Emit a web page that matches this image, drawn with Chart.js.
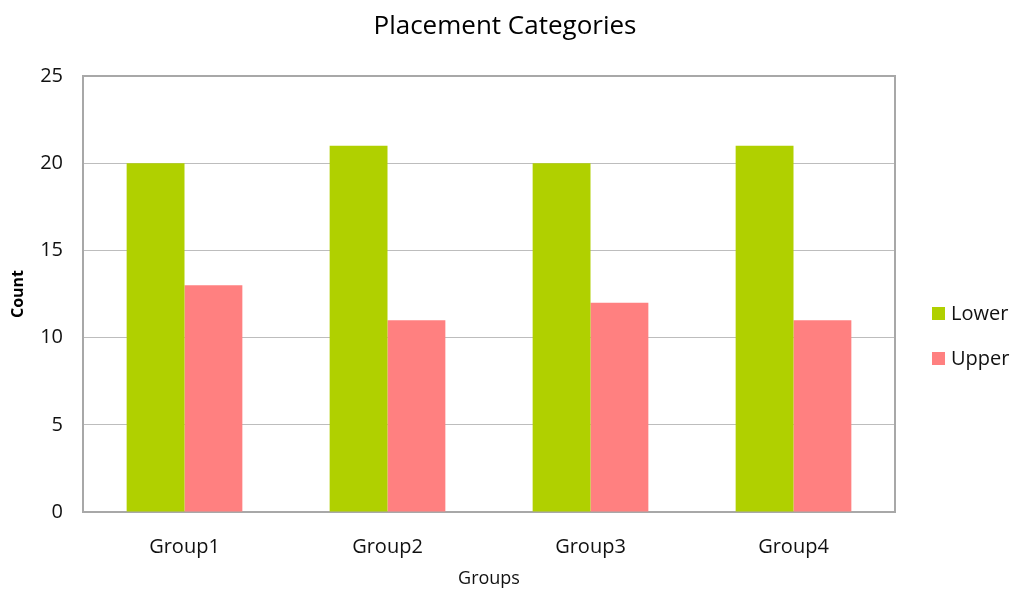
<!DOCTYPE html>
<html>
<head>
<meta charset="utf-8">
<script src="https://cdn.jsdelivr.net/npm/chart.js@4"></script>
<style>
  html, body {margin: 0; padding: 0; background: #fff;}
  #wrap {width: 1013px; height: 590px;}
</style>
</head>
<body>
<div id="wrap"><canvas id="chart" width="1013" height="590"></canvas></div>
<script>
const groups = ['Group1', 'Group2', 'Group3', 'Group4'];
const lowerCounts = [20, 21, 20, 21];
const upperCounts = [13, 11, 12, 11];
const seriesNames = ['Lower', 'Upper'];
const seriesColors = ['#b0d000', '#ff8080'];

const FONT = "'Open Sans', 'Liberation Sans', sans-serif";

// title, plot frame and right-hand legend
const decorations = {
    id: 'decorations',
    beforeDatasetsDraw(chart) {
        const {ctx, chartArea: a} = chart;
        ctx.save();
        ctx.strokeStyle = '#a8a8a8';
        ctx.lineWidth = 2;
        ctx.strokeRect(a.left, a.top, a.right - a.left, a.bottom - a.top);
        ctx.restore();
    },
    afterDraw(chart) {
        const {ctx} = chart;
        ctx.save();
        ctx.fillStyle = '#000';
        ctx.font = `26px ${FONT}`;
        ctx.textAlign = 'center';
        ctx.textBaseline = 'middle';
        ctx.fillText('Placement Categories', 505, 27);

        ctx.font = `20px ${FONT}`;
        ctx.textAlign = 'left';
        chart.data.datasets.forEach((ds, i) => {
            const y = 314 + i * 45;
            ctx.fillStyle = ds.backgroundColor;
            ctx.fillRect(932, y - 7, 13, 13);
            ctx.fillStyle = '#111';
            ctx.fillText(ds.label, 951, y);
        });
        ctx.restore();
    }
};

new Chart(document.getElementById('chart'), {
    type: 'bar',
    data: {
        labels: groups,
        datasets: [
            {label: seriesNames[0], data: lowerCounts, backgroundColor: seriesColors[0]},
            {label: seriesNames[1], data: upperCounts, backgroundColor: seriesColors[1]},
        ],
    },
    options: {
        responsive: false,
        animation: false,
        layout: {padding: {top: 76, right: 118, left: 0, bottom: 0}},
        datasets: {bar: {categoryPercentage: 0.57, barPercentage: 1}},
        plugins: {
            legend: {display: false},
            title: {display: false},
            tooltip: {enabled: false},
        },
        scales: {
            x: {
                grid: {display: false, drawTicks: false},
                border: {display: false},
                ticks: {color: '#111', font: {family: FONT, size: 20}, padding: 23},
                title: {display: true, text: 'Groups', color: '#111', font: {family: FONT, size: 18}, padding: {top: 0, bottom: 0}},
                afterFit: (s) => { s.height = 78; },
            },
            y: {
                min: 0,
                max: 25,
                grid: {color: '#bdbdbd', lineWidth: 1, drawTicks: false},
                border: {display: false},
                ticks: {stepSize: 5, color: '#111', font: {family: FONT, size: 20}, padding: 20},
                title: {display: true, text: 'Count', color: '#000', font: {family: FONT, size: 16, weight: 'bold'}, padding: {top: 9, bottom: 0}},
                afterFit: (s) => { s.width = 83; },
            },
        },
    },
    plugins: [decorations],
});
</script>
</body>
</html>
